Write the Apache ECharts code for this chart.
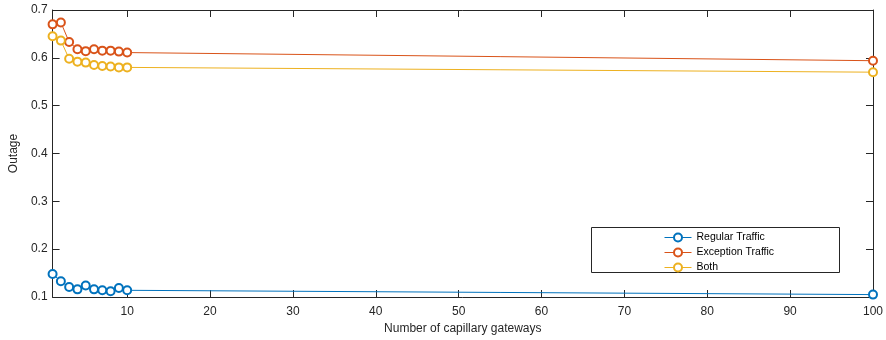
<!DOCTYPE html>
<html><head><meta charset="utf-8">
<script src="https://cdn.jsdelivr.net/npm/echarts@6/dist/echarts.min.js"></script>
<style>html,body{margin:0;padding:0;background:#fff}#c{width:886px;height:340px}</style>
</head><body><div id="c"></div>
<script>
const gateways = [1,2,3,4,5,6,7,8,9,10,100];
const regular = [0.148,0.133,0.121,0.116,0.124,0.116,0.114,0.112,0.119,0.114,0.105];
const exception = [0.670,0.674,0.633,0.618,0.614,0.618,0.615,0.615,0.613,0.611,0.594];
const both = [0.645,0.636,0.598,0.592,0.590,0.585,0.583,0.582,0.580,0.580,0.570];
const xTicks = [10,20,30,40,50,60,70,80,90,100];
const seriesNames = ['Regular Traffic','Exception Traffic','Both'];

const font = "'Liberation Sans', Arial, Helvetica, sans-serif";
const axisColor = '#262626';
const chart = echarts.init(document.getElementById('c'));
function pairs(v){ return gateways.map((g,i)=>[g,v[i]]); }
const xBase = {
  type:'value', min:1, max:100,
  axisLine:{show:true,onZero:false,lineStyle:{color:axisColor,width:1}},
  axisTick:{show:true,inside:true,length:7,customValues:xTicks,lineStyle:{color:axisColor}},
  splitLine:{show:false}
};
const yBase = {
  type:'value', min:0.1, max:0.7, interval:0.1,
  axisLine:{show:true,onZero:false,lineStyle:{color:axisColor,width:1}},
  axisTick:{show:true,inside:true,length:7,lineStyle:{color:axisColor}},
  splitLine:{show:false}
};
const colors = ['#0072BD','#D95319','#EDB120'];
chart.setOption({
  animation:false,
  textStyle:{fontFamily:font},
  grid:{left:49,right:10,top:10,bottom:43,containLabel:false},
  xAxis:[
    Object.assign({}, xBase, {position:'bottom', name:'Number of capillary gateways', nameLocation:'middle', nameGap:26,
      nameTextStyle:{color:axisColor,fontSize:12,fontFamily:font},
      axisLabel:{show:true,customValues:xTicks,color:axisColor,fontSize:12,fontFamily:font,margin:9}}),
    Object.assign({}, xBase, {position:'top', axisLabel:{show:false}})
  ],
  yAxis:[
    Object.assign({}, yBase, {position:'left', name:'Outage', nameLocation:'middle', nameGap:27,
      nameTextStyle:{color:axisColor,fontSize:12,fontFamily:font},
      axisLabel:{show:true,color:axisColor,fontSize:12,fontFamily:font,margin:5,formatter:v=>(Math.round(v*10)/10).toString()}}),
    Object.assign({}, yBase, {position:'right', axisLabel:{show:false}})
  ],
  legend:{
    orient:'vertical', left:659, top:227, itemWidth:27, itemHeight:10, itemGap:4,
    textStyle:{color:'#000',fontSize:10.5,fontFamily:font},
    itemStyle:{borderWidth:1},
    lineStyle:{width:1},
    data:seriesNames
  },
  graphic:[{type:'rect', z:0, shape:{x:591.5,y:227.5,width:248,height:45}, style:{fill:'#fff',stroke:axisColor,lineWidth:1}}],
  series:[regular,exception,both].map((v,i)=>({
    name:seriesNames[i], type:'line', data:pairs(v), xAxisIndex:0, yAxisIndex:0,
    symbol:'emptyCircle', symbolSize:8, showAllSymbol:true,
    lineStyle:{color:colors[i],width:1}, itemStyle:{color:colors[i],borderWidth:1},
    emphasis:{disabled:true}
  }))
});
</script></body></html>
